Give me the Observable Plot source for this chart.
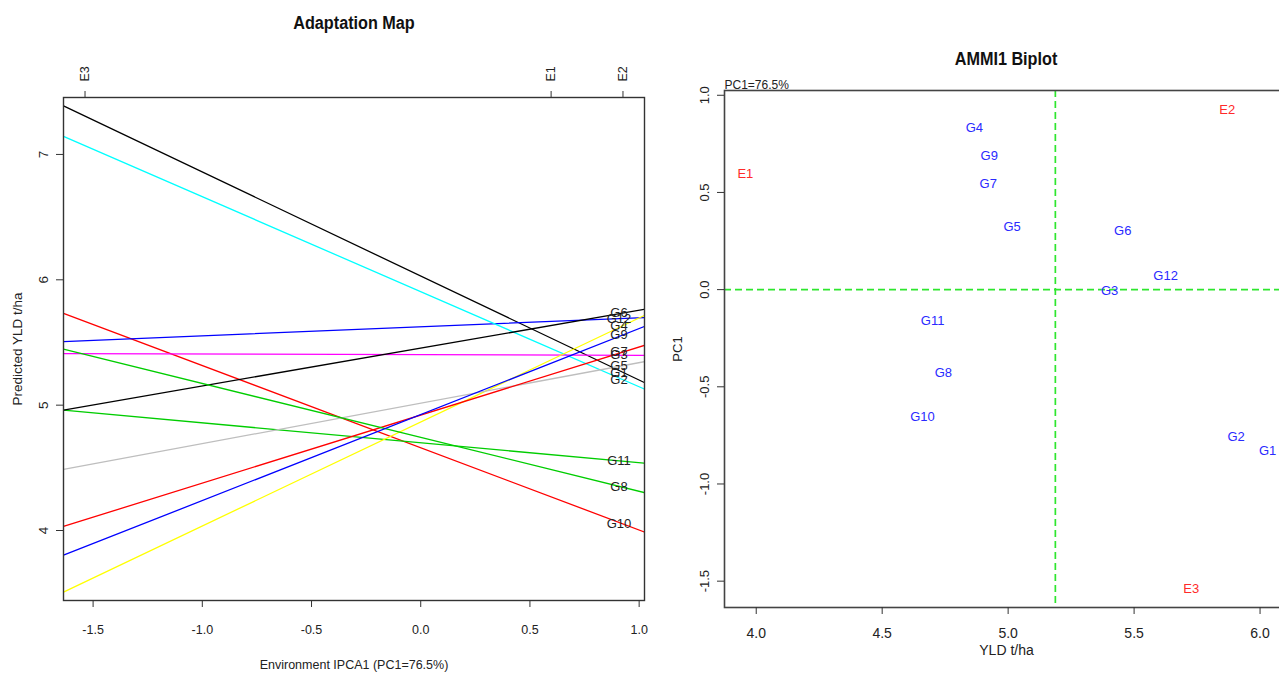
<!DOCTYPE html>
<html><head><meta charset="utf-8">
<script src="https://cdn.jsdelivr.net/npm/d3@7"></script>
<script src="https://cdn.jsdelivr.net/npm/@observablehq/plot@0.6"></script>
<style>
html,body{margin:0;padding:0;background:#fff;overflow:hidden;width:1279px;height:673px;position:relative;}
#left{position:absolute;left:0;top:0;width:660px;height:673px;}
#right{position:absolute;left:660px;top:0;width:644px;height:673px;}
#left svg,#right svg{max-width:none !important;}
.title{position:absolute;font-family:"Liberation Sans Narrow","Arial Narrow","Liberation Sans",Arial,sans-serif;font-weight:bold;font-size:18px;color:#111;transform:translateX(-50%) scaleX(0.9);white-space:nowrap;line-height:1;}
</style></head><body>
<div id="left"></div><div id="right"></div>
<div class="title" style="left:354px;top:14px">Adaptation Map</div>
<div class="title" style="left:1006px;top:50px">AMMI1 Biplot</div>
<script>
// ---- data ----
const genotypes = ["G1","G2","G3","G4","G5","G6","G7","G8","G9","G10","G11","G12"];
const genoYield = [6.03, 5.905, 5.403, 4.866, 5.016, 5.455, 4.921, 4.743, 4.925, 4.66, 4.70, 5.625];
const genoPC1   = [-0.830, -0.758, -0.005, 0.830, 0.323, 0.302, 0.543, -0.430, 0.686, -0.656, -0.159, 0.072];
const genoColors = ["#000000","#00FFFF","#FF00FF","#FFFF00","#BEBEBE","#000000","#FF0000","#00CD00","#0000FF","#FF0000","#00CD00","#0000FF"];
const envNames = ["E1","E2","E3"];
const envYield = [3.957, 5.870, 5.727];
const envPC1   = [0.597, 0.926, -1.537];
const xTicksLeft = [-1.5, -1.0, -0.5, 0.0, 0.5, 1.0];
const yTicksLeft = [4, 5, 6, 7];
const xTicksRight = [4.0, 4.5, 5.0, 5.5, 6.0];
const yTicksRight = [-1.5, -1.0, -0.5, 0.0, 0.5, 1.0];

const FONT = "'Liberation Sans', Arial, sans-serif";
const pad = ([a, b]) => [a - 0.04 * (b - a), b + 0.04 * (b - a)];
const fmt1 = d => d.toFixed(1);

// ---- Adaptation map ----
const predicted = (i, x) => genoYield[i] + genoPC1[i] * x;
const xDomL = pad(d3.extent(envPC1));
const allPred = genotypes.flatMap((g, i) => envPC1.map(e => predicted(i, e)));
const yDomL = pad(d3.extent(allPred));
// R draws genotypes in sorted (alphabetical) order
const order = genotypes.map((g, i) => i).sort((a, b) => genotypes[a].localeCompare(genotypes[b]));
const lineData = order.flatMap(i => xDomL.map(x => ({g: genotypes[i], x, y: predicted(i, x), c: genoColors[i]})));
const maxEnv = d3.max(envPC1);
const labelData = genotypes.map((g, i) => ({g, x: maxEnv, y: predicted(i, maxEnv)}));

const left = Plot.plot({
  width: 660, height: 673,
  marginLeft: 63, marginRight: 16, marginTop: 97, marginBottom: 73,
  style: {fontFamily: FONT, fontSize: "12.5px", color: "#222", background: "white", overflow: "visible", maxWidth: "none"},
  x: {domain: xDomL},
  y: {domain: yDomL},
  marks: [
    Plot.line(lineData, {x: "x", y: "y", z: "g", stroke: "c", strokeWidth: 1.3, clip: true}),
    Plot.text(labelData, {x: "x", y: "y", text: "g", fill: "#222", fontSize: 13, dx: -4}),
    Plot.frame({stroke: "#333", strokeWidth: 1.4}),
    Plot.axisX({anchor: "bottom", ticks: xTicksLeft, tickFormat: fmt1, tickSize: 7, tickPadding: 18, stroke: "#333",
      label: "Environment IPCA1 (PC1=76.5%)", labelAnchor: "center", labelArrow: "none", labelOffset: 68}),
    Plot.axisX({anchor: "top", ticks: envPC1, tickFormat: d => envNames[envPC1.indexOf(d)], tickRotate: -90,
      tickSize: 7, tickPadding: 9, stroke: "#333", label: null}),
    Plot.axisY({anchor: "left", ticks: yTicksLeft, tickFormat: d => String(d), tickRotate: -90, tickSize: 7, tickPadding: 9,
      stroke: "#333", label: "Predicted YLD t/ha", labelAnchor: "center", labelArrow: "none", labelOffset: 51, fontSize: 13.5})
  ]
});
document.getElementById("left").appendChild(left);

// ---- AMMI1 biplot ----
const ptsYield = genoYield.concat(envYield);
const ptsPC1 = genoPC1.concat(envPC1);
const xDomR = pad(d3.extent(ptsYield));
const yDomR = pad(d3.extent(ptsPC1));
const grandMean = d3.mean(genoYield);
const genoPts = genotypes.map((g, i) => ({name: g, x: genoYield[i], y: genoPC1[i]}));
const envPts = envNames.map((e, i) => ({name: e, x: envYield[i], y: envPC1[i]}));

const right = Plot.plot({
  width: 644, height: 673,
  marginLeft: 64, marginRight: 16, marginTop: 90, marginBottom: 66,
  style: {fontFamily: FONT, fontSize: "12.5px", color: "#222", background: "white", overflow: "visible", maxWidth: "none"},
  x: {domain: xDomR},
  y: {domain: yDomR},
  marks: [
    Plot.ruleX([grandMean], {stroke: "#2ee62e", strokeWidth: 1.7, strokeDasharray: "7,4"}),
    Plot.ruleY([0], {stroke: "#2ee62e", strokeWidth: 1.7, strokeDasharray: "7,4"}),
    Plot.text(genoPts, {x: "x", y: "y", text: "name", fill: "#2a2aff", fontSize: 13}),
    Plot.text(envPts, {x: "x", y: "y", text: "name", fill: "#ff2a2a", fontSize: 13}),
    Plot.frame({stroke: "#444", strokeWidth: 1.6}),
    Plot.text(["PC1=76.5%"], {frameAnchor: "top-left", text: d => d, textAnchor: "start", lineAnchor: "bottom", dy: -2, fontSize: 12, fill: "#222"}),
    Plot.axisX({anchor: "bottom", ticks: xTicksRight, tickFormat: fmt1, tickSize: 7, tickPadding: 14, stroke: "#333",
      label: "YLD t/ha", labelAnchor: "center", labelArrow: "none", labelOffset: 47, fontSize: 14}),
    Plot.axisY({anchor: "left", ticks: yTicksRight, tickFormat: fmt1, tickRotate: -90, tickSize: 7, tickPadding: 9, stroke: "#333",
      label: "PC1", labelAnchor: "center", labelArrow: "none", labelOffset: 52, fontSize: 13})
  ]
});
document.getElementById("right").appendChild(right);
</script>
</body></html>
